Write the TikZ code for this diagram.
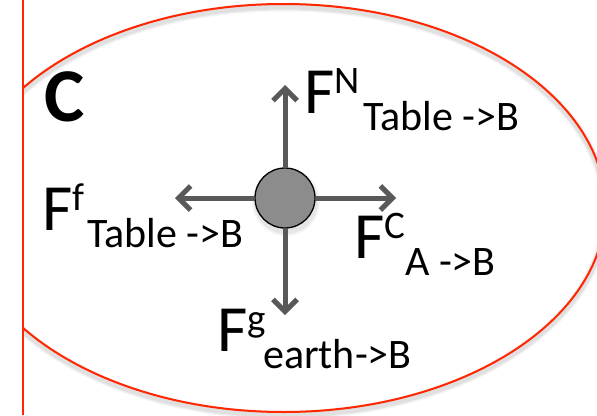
\documentclass[tikz,border=0pt]{standalone}
\usepackage{fontspec}
\setmainfont{Carlito}
\usetikzlibrary{arrows.meta}
\definecolor{redline}{RGB}{255,38,0}
\definecolor{arrowgray}{RGB}{89,89,89}
\definecolor{ballgray}{RGB}{140,140,140}
\tikzset{
 force/.style={draw=arrowgray, line width=5pt, -{Straight Barb[length=12pt,width=24pt]}},
 bigF/.style={inner sep=0pt, anchor=base west, font=\fontsize{66}{66}\selectfont},
 supT/.style={inner sep=0pt, anchor=base west, font=\fontsize{39}{39}\selectfont},
 subT/.style={inner sep=0pt, anchor=base west, font=\fontsize{42}{42}\selectfont},
}
\begin{document}
\begin{tikzpicture}[x=1pt,y=-1pt]
\useasboundingbox (0,0) rectangle (597,415);
\fill[white] (0,0) rectangle (597,415);
% ellipse (system C) with soft shadow, clipped at the wall
\begin{scope}
\clip (23,0) rectangle (597,415);
\foreach \w/\o in {9/0.03,7/0.04,5/0.05}
  \draw[black, opacity=\o, line width=\w pt] (283.5,211) ellipse [x radius=322, y radius=204];
\draw[redline, line width=2pt] (283.5,208) ellipse [x radius=322, y radius=204];
\end{scope}
% wall
\coordinate (wtop) at (23,0);
\coordinate (wbot) at (23,415);
\draw[redline, line width=2pt] (wtop) -- (wbot);
% ball shadow
\foreach \r/\o in {34/0.04,32/0.06}
  \fill[black, opacity=\o] (286,202) circle (\r);
% ball
\node[circle, minimum size=60pt, inner sep=0pt, fill=ballgray, draw=black, line width=1.3pt] (ball) at (285,198) {};
% arrow ends
\coordinate (up) at (285,85);
\coordinate (left) at (175,198);
\coordinate (right) at (396,198);
\coordinate (down) at (285,315);
\draw[force] (ball) -- (up);
\draw[force] (ball) -- (left);
\draw[force] (ball) -- (right);
\draw[force] (ball) -- (down);
% system label
\node[inner sep=0pt, anchor=base west, font=\bfseries\fontsize{76}{76}\selectfont] (C) at (44,121) {C};
% force labels
\node[bigF] (fN) at (304,113) {F};
\node[supT] (fNsup) at ([yshift=20pt]fN.base east) {N};
\node[subT] (fNsub) at (363,130) {Table ->B};

\node[bigF] (ff) at (42,230) {F};
\node[supT] (ffsup) at ([yshift=20pt]ff.base east) {f};
\node[subT] (ffsub) at (87,247) {Table ->B};

\node[bigF] (fC) at (354,258) {F};
\node[supT] (fCsup) at ([yshift=20pt]fC.base east) {C};
\node[subT] (fCsub) at (405,275) {A ->B};

\node[bigF] (fg) at (217,351) {F};
\node[supT] (fgsup) at ([yshift=20pt]fg.base east) {g};
\node[subT] (fgsub) at (263,368) {earth->B};
\end{tikzpicture}
\end{document}
